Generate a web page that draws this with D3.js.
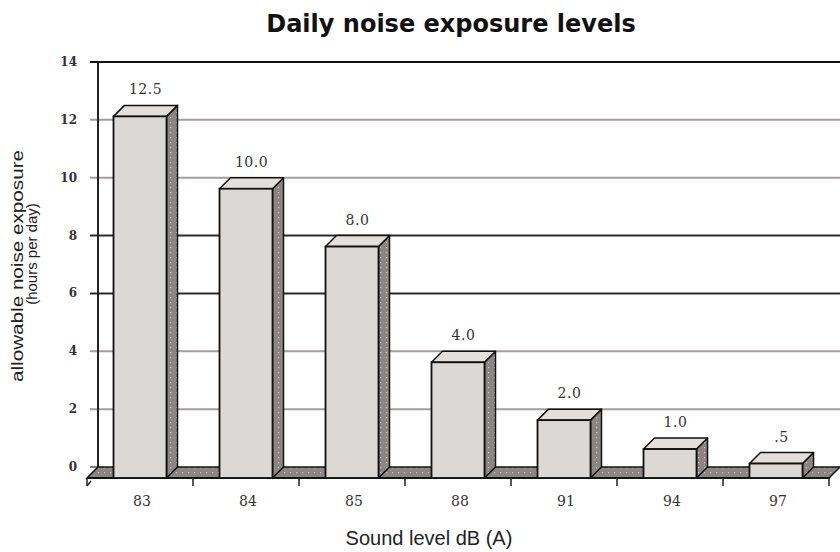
<!DOCTYPE html>
<html>
<head>
<meta charset="utf-8">
<script src="https://cdn.jsdelivr.net/npm/d3@7"></script>
<style>
  body { margin: 0; background: #fff; }
  svg { display: block; }
</style>
</head>
<body>
<div id="chart"></div>
<script>
const categories = ["83", "84", "85", "88", "91", "94", "97"];
const hours = [12.5, 10.0, 8.0, 4.0, 2.0, 1.0, 0.5];
const valueLabels = ["12.5", "10.0", "8.0", "4.0", "2.0", "1.0", ".5"];
const yTicks = [0, 2, 4, 6, 8, 10, 12, 14];

const width = 840, height = 552;
const depth = 11; // 3d offset of the back wall
const wallLeft = 98, wallRight = 840, wallTop = 62, wallBottom = 467;

const svg = d3.select("#chart")
    .append("svg")
    .attr("width", width)
    .attr("height", height);

const defs = svg.append("defs");
const dots = defs.append("pattern")
    .attr("id", "dots")
    .attr("width", 6).attr("height", 5)
    .attr("patternUnits", "userSpaceOnUse");
dots.append("rect").attr("width", 6).attr("height", 5).attr("fill", "#8b8685");
dots.append("rect").attr("x", 2).attr("y", 2).attr("width", 1.2).attr("height", 1.2).attr("fill", "#c9c5c3");

// back wall scales
const x = d3.scaleBand()
    .domain(categories)
    .range([wallLeft, wallRight])
    .paddingInner(0.5)
    .paddingOuter(0.25);

const y = d3.scaleLinear()
    .domain([0, 14])
    .range([wallBottom, wallTop]);

// front plane = back plane shifted down-left
const fx = d => x(d) - depth;
const fy = v => y(v) + depth;

// title
svg.append("text")
    .attr("x", 451).attr("y", 32)
    .attr("text-anchor", "middle")
    .style("font-family", "'DejaVu Sans', Verdana, sans-serif")
    .style("font-weight", "bold")
    .style("font-size", "24px")
    .style("fill", "#111")
    .text("Daily noise exposure levels");

// gridlines on the back wall
const grid = svg.append("g");
yTicks.filter(t => t > 0 && t < 14).forEach(t => {
    grid.append("line")
        .attr("x1", wallLeft - 8).attr("x2", wallRight)
        .attr("y1", y(t)).attr("y2", y(t))
        .attr("stroke", (t === 6 || t === 8) ? "#2a2a2a" : "#a39e9c")
        .attr("stroke-width", 2);
});
grid.append("line")
    .attr("x1", wallLeft - 8).attr("x2", wallRight)
    .attr("y1", y(14)).attr("y2", y(14))
    .attr("stroke", "#111").attr("stroke-width", 2);
grid.append("line")
    .attr("x1", wallLeft - 8).attr("x2", wallLeft)
    .attr("y1", y(0)).attr("y2", y(0))
    .attr("stroke", "#555").attr("stroke-width", 1.5);
grid.append("line")
    .attr("x1", wallLeft).attr("x2", wallLeft)
    .attr("y1", y(14)).attr("y2", y(0))
    .attr("stroke", "#222").attr("stroke-width", 2);

// y tick labels
svg.append("g")
    .selectAll("text")
    .data(yTicks)
    .enter()
    .append("text")
    .attr("x", 77)
    .attr("y", d => y(d) + 4)
    .attr("text-anchor", "end")
    .style("font-family", "Georgia, 'DejaVu Serif', serif")
    .style("font-weight", "bold")
    .style("font-size", "12px")
    .style("fill", "#333")
    .text(d => d);

// floor
const floorFront = fy(0), floorBack = y(0);
svg.append("polygon")
    .attr("points", [
        [wallLeft - depth, floorFront],
        [wallRight - depth, floorFront],
        [wallRight, floorBack],
        [wallLeft, floorBack]
    ].map(p => p.join(",")).join(" "))
    .attr("fill", "url(#dots)")
    .attr("stroke", "#111")
    .attr("stroke-width", 1.5);

// x axis at the front edge
const step = x.step();
const axisG = svg.append("g");
axisG.append("line")
    .attr("x1", wallLeft - depth).attr("x2", wallRight - depth)
    .attr("y1", floorFront).attr("y2", floorFront)
    .attr("stroke", "#111").attr("stroke-width", 2);
d3.range(categories.length + 1).forEach(i => {
    const tx = wallLeft - depth + i * step;
    axisG.append("line")
        .attr("x1", tx).attr("x2", tx)
        .attr("y1", floorFront).attr("y2", floorFront + 8)
        .attr("stroke", "#222").attr("stroke-width", 1.5);
});
axisG.append("line")
    .attr("x1", wallLeft - depth).attr("x2", wallLeft - depth + 4)
    .attr("y1", floorFront + 8).attr("y2", floorFront + 3)
    .attr("stroke", "#222").attr("stroke-width", 1.5);

axisG.selectAll(".xlab")
    .data(categories)
    .enter()
    .append("text")
    .attr("class", "xlab")
    .attr("x", d => fx(d) + x.bandwidth() / 2 + 2)
    .attr("y", 506)
    .attr("text-anchor", "middle")
    .style("font-family", "Georgia, 'DejaVu Serif', serif")
    .style("font-size", "14px")
    .style("fill", "#333")
    .text(d => d);

// bars
const bars = svg.append("g")
    .selectAll("g")
    .data(categories.map((c, i) => ({ cat: c, value: hours[i], label: valueLabels[i] })))
    .enter()
    .append("g");

const bw = x.bandwidth();
const poly = pts => pts.map(p => p.join(",")).join(" ");

// side face
bars.append("polygon")
    .attr("points", d => {
        const x1 = fx(d.cat) + bw;
        return poly([[x1, fy(d.value)], [x1 + depth, y(d.value)], [x1 + depth, y(0)], [x1, fy(0)]]);
    })
    .attr("fill", "url(#dots)")
    .attr("stroke", "#111")
    .attr("stroke-width", 1.5)
    .attr("stroke-linejoin", "round");

// top face
bars.append("polygon")
    .attr("points", d => {
        const x0 = fx(d.cat);
        return poly([[x0, fy(d.value)], [x0 + bw, fy(d.value)], [x0 + bw + depth, y(d.value)], [x0 + depth, y(d.value)]]);
    })
    .attr("fill", "#e3dfdd")
    .attr("stroke", "#111")
    .attr("stroke-width", 1.5)
    .attr("stroke-linejoin", "round");

// front face
bars.append("rect")
    .attr("x", d => fx(d.cat))
    .attr("y", d => fy(d.value))
    .attr("width", bw)
    .attr("height", d => fy(0) - fy(d.value))
    .attr("fill", "#dcd8d6")
    .attr("stroke", "#111")
    .attr("stroke-width", 1.8);

// value labels
bars.append("text")
    .attr("x", d => fx(d.cat) + bw / 2 + depth / 2)
    .attr("y", d => y(d.value) - 11)
    .attr("text-anchor", "middle")
    .style("font-family", "Georgia, 'DejaVu Serif', serif")
    .style("font-size", "14px")
    .style("letter-spacing", "0.5px")
    .style("fill", "#333")
    .text(d => d.label);

// axis titles
svg.append("text")
    .attr("x", 429).attr("y", 545)
    .attr("text-anchor", "middle")
    .style("font-family", "'Liberation Sans', Arial, sans-serif")
    .style("font-size", "20px")
    .style("fill", "#222")
    .text("Sound level dB (A)");

svg.append("text")
    .attr("transform", "translate(23,266) rotate(-90)")
    .attr("text-anchor", "middle")
    .attr("textLength", 232)
    .attr("lengthAdjust", "spacingAndGlyphs")
    .style("font-family", "'Liberation Sans', Arial, sans-serif")
    .style("font-size", "16px")
    .style("fill", "#222")
    .text("allowable noise exposure");

svg.append("text")
    .attr("transform", "translate(37,254) rotate(-90)")
    .attr("text-anchor", "middle")
    .style("font-family", "'Liberation Sans', Arial, sans-serif")
    .style("font-size", "15px")
    .style("fill", "#222")
    .text("(hours per day)");
</script>
</body>
</html>
